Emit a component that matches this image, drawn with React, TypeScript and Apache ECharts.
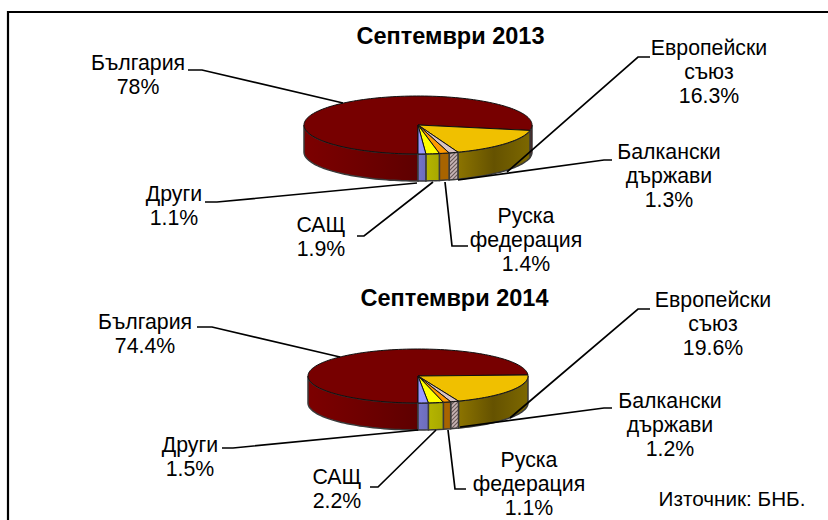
import React, { useEffect, useRef } from "react";
import * as echarts from "echarts";

const names = ["България", "Европейски\nсъюз", "Балкански\nдържави", "Руска\nфедерация", "САЩ", "Други"];
const values2013 = [78, 16.3, 1.3, 1.4, 1.9, 1.1];
const values2014 = [74.4, 19.6, 1.2, 1.1, 2.2, 1.5];
const title2013 = "Септември 2013";
const title2014 = "Септември 2014";
const source = "Източник: БНБ.";

const topColors = ["#770000", "#f0c000", "#d9c3c3", "#ff9900", "#ffff00", "#9999ff"];
const wallColors: any[] = [
  ["#7c0000", "#6e0000", "#5e0000"],
  ["#8c7400", "#655200", "#7d6800"],
  null,
  ["#a86400", "#a86400"],
  ["#b5b500", "#a8a800"],
  ["#7474c8", "#6c6cbc"],
];

const geo2013 = { cx: 418, cy: 125, rx: 114, ry: 29, depth: 27 };
const geo2014 = { cx: 418, cy: 376, rx: 110, ry: 27, depth: 27 };

const labelLayout2013 = [
  { x: 138, y: 75, line: [[188, 70], [202, 70], [343, 103]] },
  { x: 709, y: 72, line: [[650, 57], [638, 57], [507, 172]] },
  { x: 669, y: 176, line: [[612, 160], [604, 160], [458, 180]] },
  { x: 526, y: 240, line: [[468, 246], [452, 246], [445, 182]] },
  { x: 321, y: 237, line: [[357, 236], [364, 236], [433, 182]] },
  { x: 174, y: 206, line: [[205, 202], [217, 202], [417, 183]] },
];
const labelLayout2014 = [
  { x: 145, y: 334, line: [[197, 327], [212, 327], [340, 357]] },
  { x: 713, y: 324, line: [[650, 309], [638, 309], [510, 418]] },
  { x: 670, y: 425, line: [[612, 408], [604, 408], [460, 427]] },
  { x: 529, y: 484, line: [[466, 489], [455, 489], [448, 430]] },
  { x: 337, y: 489, line: [[370, 487], [378, 487], [436, 430]] },
  { x: 190, y: 457, line: [[222, 448], [233, 448], [418, 430]] },
];

function hatchPattern() {
  const c = document.createElement("canvas");
  c.width = 4;
  c.height = 4;
  const g = c.getContext("2d")!;
  g.fillStyle = "#c9b6b6";
  g.fillRect(0, 0, 4, 4);
  g.strokeStyle = "#6a5a5a";
  g.lineWidth = 1.2;
  g.beginPath();
  g.moveTo(-1, 5); g.lineTo(5, -1);
  g.moveTo(-1, 1); g.lineTo(1, -1);
  g.moveTo(3, 5); g.lineTo(5, 3);
  g.stroke();
  return { image: c, repeat: "repeat" };
}

function pieSeries(values: number[], geo: any, hatch: any) {
  const total = values.reduce((a, b) => a + b, 0);
  const pt = (deg: number, dy = 0) => {
    const r = (deg * Math.PI) / 180;
    return [geo.cx + geo.rx * Math.sin(r), geo.cy - geo.ry * Math.cos(r) + dy];
  };
  const arc = (a: number, b: number, dy: number) => {
    const n = Math.max(2, Math.ceil(Math.abs(b - a) / 2));
    const out: number[][] = [];
    for (let i = 0; i <= n; i++) out.push(pt(a + ((b - a) * i) / n, dy));
    return out;
  };
  return {
    type: "custom",
    coordinateSystem: "none",
    silent: true,
    clip: false,
    data: values.map((v) => [v]),
    renderItem: (params: any, api: any) => {
      const i = params.dataIndex;
      let before = 0;
      for (let k = 0; k < i; k++) before += values[k];
      const a = 180 + (before / total) * 360;
      const b = a + (api.value(0) / total) * 360;
      const children: any[] = [];
      for (const [lo, hi] of [[90, 270], [450, 630]]) {
        const s = Math.max(a, lo);
        const e = Math.min(b, hi);
        if (e <= s) continue;
        const pts = [...arc(s, e, 0), ...arc(e, s, geo.depth)];
        const stops = wallColors[i];
        const fill = stops
          ? {
              type: "linear", x: 0, y: 0, x2: 1, y2: 0,
              colorStops: stops.map((c: string, j: number) => ({ offset: j / (stops.length - 1), color: c })),
            }
          : hatch;
        children.push({
          type: "polygon",
          shape: { points: pts },
          style: { fill, stroke: "#3a3a3a", lineWidth: 1.5 },
        });
      }
      const top = [[geo.cx, geo.cy], ...arc(a, b, 0)];
      children.push({
        type: "polygon",
        shape: { points: top },
        style: { fill: topColors[i], stroke: "#111", lineWidth: 1 },
      });
      return { type: "group", children };
    },
  };
}

function labelGraphics(values: number[], layout: any[]) {
  const out: any[] = [];
  values.forEach((v, i) => {
    const l = layout[i];
    out.push({
      type: "polyline",
      z: 20,
      shape: { points: l.line },
      style: { stroke: "#000", lineWidth: 1.7, fill: "none" },
    });
    out.push({
      type: "text",
      z: 21,
      x: l.x,
      y: l.y,
      style: {
        text: `${names[i]}\n${v}%`,
        font: '21.3px "Liberation Sans"',
        lineHeight: 24,
        align: "center",
        verticalAlign: "middle",
        fill: "#000",
      },
    });
  });
  return out;
}

export default function App() {
  const ref = useRef<HTMLDivElement>(null);
  useEffect(() => {
    document.body.style.margin = "0";
    const chart = echarts.init(ref.current!, null, { renderer: "svg" });
    const hatch = hatchPattern();
    const titleStyle = (text: string, x: number, y: number) => ({
      type: "text",
      z: 21,
      x,
      y,
      style: { text, font: 'bold 23.5px "Liberation Sans"', align: "center", verticalAlign: "middle", fill: "#000" },
    });
    chart.setOption({
      animation: false,
      backgroundColor: "#fff",
      series: [pieSeries(values2013, geo2013, hatch), pieSeries(values2014, geo2014, hatch)],
      graphic: [
        { type: "rect", z: 1, shape: { x: 8, y: 12, width: 900, height: 600 }, style: { fill: "none", stroke: "#000", lineWidth: 2.2 } },
        titleStyle(title2013, 450.5, 36),
        titleStyle(title2014, 454.5, 298),
        ...labelGraphics(values2013, labelLayout2013),
        ...labelGraphics(values2014, labelLayout2014),
        {
          type: "text",
          z: 21,
          x: 732,
          y: 498,
          style: { text: source, font: '20.7px "Liberation Sans"', align: "center", verticalAlign: "middle", fill: "#000" },
        },
      ],
    });
    return () => chart.dispose();
  }, []);
  return <div ref={ref} style={{ width: 828, height: 520 }} />;
}
